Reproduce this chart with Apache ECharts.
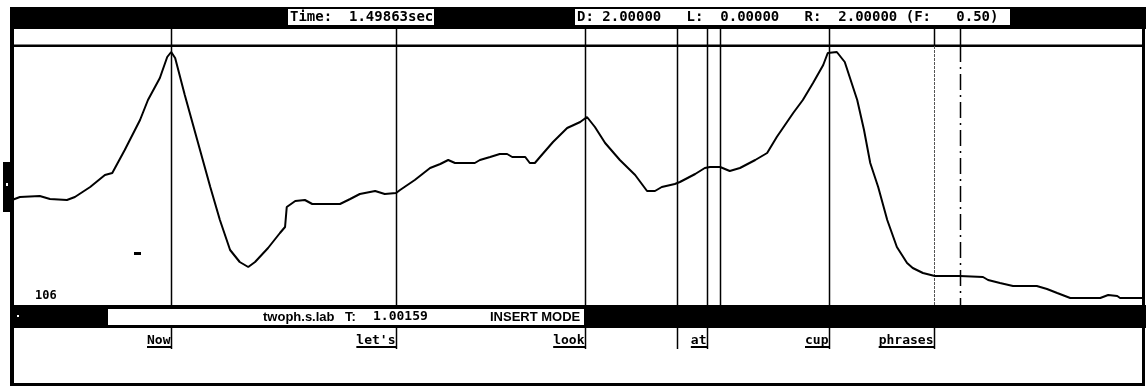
<!DOCTYPE html>
<html>
<head>
<meta charset="utf-8">
<script src="https://cdn.jsdelivr.net/npm/echarts@6/dist/echarts.min.js"></script>
<style>
  html, body { margin: 0; padding: 0; background: #fff; }
  #chart { width: 1148px; height: 388px; }
</style>
</head>
<body>
<div id="chart"></div>
<script>
// pitch track (sec, Hz)
const times = [
  0.000, 0.014, 0.049, 0.067, 0.097, 0.111, 0.138, 0.164, 0.177, 0.199,
  0.226, 0.240, 0.261, 0.274, 0.281, 0.288, 0.305, 0.327, 0.350, 0.367,
  0.385, 0.402, 0.417, 0.429, 0.452, 0.473, 0.482, 0.485, 0.500, 0.517,
  0.530, 0.579, 0.597, 0.614, 0.641, 0.658, 0.678, 0.685, 0.711, 0.738,
  0.756, 0.770, 0.782, 0.817, 0.826, 0.844, 0.861, 0.874, 0.883, 0.906,
  0.914, 0.923, 0.932, 0.955, 0.980, 1.003, 1.015, 1.029, 1.047, 1.073,
  1.100, 1.121, 1.135, 1.147, 1.170, 1.179, 1.206, 1.223, 1.232, 1.250,
  1.267, 1.285, 1.312, 1.333, 1.350, 1.379, 1.396, 1.414, 1.432, 1.440,
  1.456, 1.470, 1.492, 1.504, 1.515, 1.529, 1.545, 1.562, 1.580, 1.590,
  1.608, 1.629, 1.673, 1.714, 1.723, 1.744, 1.767, 1.809, 1.827, 1.845,
  1.868, 1.921, 1.935, 1.951, 1.956, 1.995
];
const pitch = [
  211, 214, 215, 212, 211, 214, 224, 236, 238, 261,
  291, 311, 333, 354, 359, 353, 316, 271, 224, 191,
  161, 149, 144, 149, 163, 178, 184, 204, 210, 211,
  207, 207, 212, 217, 220, 217, 218, 221, 231, 243,
  247, 251, 248, 248, 251, 254, 257, 257, 254, 254,
  248, 248, 254, 269, 283, 289, 294, 284, 268, 251,
  236, 220, 220, 224, 227, 229, 237, 243, 244, 244,
  240, 243, 251, 258, 274, 298, 311, 328, 346, 358,
  359, 349, 311, 281, 248, 224, 191, 164, 148, 143,
  138, 135, 135, 134, 131, 128, 125, 125, 122, 118,
  113, 113, 116, 115, 113, 113
];

// label boundaries (sec)
const boundaryTimes = [0.2807, 0.6778, 1.0115, 1.1739, 1.2268, 1.2498, 1.4422];
const phraseEndTime = 1.6275;
const cursorTime = 1.6734;
const wordTimes = [0.2807, 0.6778, 1.0115, 1.1739, 1.2268, 1.4422, 1.6275];
const wordLabels = ['Now', "let's", 'look', '', 'at', 'cup', 'phrases'];

const pitchMin = 106, pitchMax = 365;
const tMin = 0, tMax = 2;

const timeText = 'Time:  1.49863sec';
const rangeText = 'D: 2.00000   L:  0.00000   R:  2.00000 (F:   0.50)';
const labFile = 'twoph.s.lab', tLabel = 'T:', tValue = '1.00159', modeText = 'INSERT MODE';

const chart = echarts.init(document.getElementById('chart'));

const mono = '"DejaVu Sans Mono", "Liberation Mono", monospace';
const sans = '"Liberation Sans", Arial, sans-serif';

const gridBox = { left: 12, right: 3 };

function vline(styleFor) {
  return function (params, api) {
    const cs = params.coordSys;
    const x = Math.round(api.coord([api.value(0), 0])[0]) + 0.5;
    return {
      type: 'line',
      shape: { x1: x, y1: cs.y, x2: x, y2: cs.y + cs.height },
      style: styleFor(api.value(1))
    };
  };
}

const headerDividers = boundaryTimes.concat([phraseEndTime, cursorTime]).map(t => [t, 0]);
const plotBoundaries = boundaryTimes.map(t => [t, 0])
  .concat([[phraseEndTime, 1], [cursorTime, 2]]);

const plotStyles = [
  { stroke: '#000', lineWidth: 1.5 },
  { stroke: '#555', lineWidth: 1, lineDash: [3, 1] },
  { stroke: '#000', lineWidth: 1.5, lineDash: [16, 5, 2, 5] }
];

function hiddenX(i) {
  return { type: 'value', gridIndex: i, min: tMin, max: tMax, show: false };
}

const option = {
  animation: false,
  backgroundColor: '#fff',
  grid: [
    Object.assign({ top: 29, height: 16 }, gridBox),
    Object.assign({ top: 46, height: 259 }, gridBox),
    Object.assign({ top: 328, height: 21 }, gridBox)
  ],
  xAxis: [hiddenX(0), hiddenX(1), hiddenX(2)],
  yAxis: [
    { type: 'value', gridIndex: 0, min: 0, max: 1, show: false },
    {
      type: 'value', gridIndex: 1, min: pitchMin, max: pitchMax,
      axisLine: { show: false }, axisTick: { show: false }, splitLine: { show: false },
      axisLabel: {
        show: true, inside: true, margin: 23, showMinLabel: true, showMaxLabel: false,
        formatter: v => (v === pitchMin ? String(v) : ''),
        verticalAlign: 'bottom', padding: [0, 0, 3, 0],
        color: '#000', fontFamily: mono, fontWeight: 'bold', fontSize: 12
      }
    },
    { type: 'value', gridIndex: 2, min: 0, max: 1, show: false }
  ],
  series: [
    {
      type: 'custom', xAxisIndex: 0, yAxisIndex: 0,
      data: headerDividers,
      renderItem: vline(() => ({ stroke: '#000', lineWidth: 1.5 }))
    },
    {
      type: 'custom', xAxisIndex: 1, yAxisIndex: 1,
      data: plotBoundaries,
      renderItem: vline(k => plotStyles[k])
    },
    {
      type: 'line', xAxisIndex: 1, yAxisIndex: 1,
      data: times.map((t, i) => [t, pitch[i]]),
      showSymbol: false, symbol: 'none',
      lineStyle: { color: '#000', width: 2 },
      z: 3
    },
    {
      type: 'custom', xAxisIndex: 2, yAxisIndex: 2,
      data: wordTimes.map((t, i) => [t, i]),
      renderItem: function (params, api) {
        const cs = params.coordSys;
        const x = Math.round(api.coord([api.value(0), 0])[0]) + 0.5;
        const word = wordLabels[api.value(1)];
        const children = [{
          type: 'line',
          shape: { x1: x, y1: cs.y, x2: x, y2: cs.y + cs.height },
          style: { stroke: '#000', lineWidth: 1.5 }
        }];
        if (word) {
          const w = word.length * 7.83;
          children.push({
            type: 'text',
            style: {
              text: word, x: x - 1, y: cs.y + 13,
              align: 'right', verticalAlign: 'middle',
              font: 'bold 13px ' + mono, fill: '#000'
            }
          });
          children.push({
            type: 'rect',
            shape: { x: x - w - 1, y: cs.y + 18, width: w + 1, height: 2 },
            style: { fill: '#000' }
          });
        }
        return { type: 'group', children: children };
      }
    }
  ],
  graphic: [
    // top status bar
    { type: 'rect', shape: { x: 12, y: 7, width: 1134, height: 22 }, style: { fill: '#000' } },
    { type: 'rect', shape: { x: 288, y: 9, width: 146, height: 16 }, style: { fill: '#fff' } },
    { type: 'text', style: { text: timeText, x: 290, y: 17, verticalAlign: 'middle', font: 'bold 14px ' + mono, fill: '#000' } },
    { type: 'rect', shape: { x: 575, y: 9, width: 435, height: 16 }, style: { fill: '#fff' } },
    { type: 'text', style: { text: rangeText, x: 577, y: 17, verticalAlign: 'middle', font: 'bold 14px ' + mono, fill: '#000' } },
    // frame
    { type: 'rect', shape: { x: 10, y: 7, width: 4, height: 379 }, style: { fill: '#000' } },
    { type: 'rect', shape: { x: 1142, y: 7, width: 3, height: 379 }, style: { fill: '#000' } },
    { type: 'rect', shape: { x: 12, y: 44.5, width: 1132, height: 2.5 }, style: { fill: '#000' } },
    { type: 'rect', shape: { x: 10, y: 383, width: 1135, height: 3 }, style: { fill: '#000' } },
    { type: 'rect', shape: { x: 3, y: 162, width: 8, height: 50 }, style: { fill: '#000' } },
    { type: 'rect', shape: { x: 6, y: 183, width: 2, height: 3 }, style: { fill: '#fff' } },
    { type: 'rect', shape: { x: 134, y: 252, width: 7, height: 3 }, style: { fill: '#000' } },
    // label-file bar
    { type: 'rect', shape: { x: 12, y: 305, width: 1134, height: 23 }, style: { fill: '#000' } },
    { type: 'rect', shape: { x: 17, y: 315, width: 2, height: 2 }, style: { fill: '#fff' } },
    { type: 'rect', shape: { x: 108, y: 309, width: 476, height: 16 }, style: { fill: '#fff' } },
    { type: 'text', style: { text: labFile, x: 263, y: 317, verticalAlign: 'middle', font: 'bold 13px ' + sans, fill: '#000' } },
    { type: 'text', style: { text: tLabel, x: 345, y: 317, verticalAlign: 'middle', font: 'bold 13px ' + sans, fill: '#000' } },
    { type: 'text', style: { text: tValue, x: 373, y: 317, verticalAlign: 'middle', font: 'bold 13px ' + mono, fill: '#000' } },
    { type: 'text', style: { text: modeText, x: 490, y: 317, verticalAlign: 'middle', font: 'bold 13px ' + sans, fill: '#000' } }
  ]
};

chart.setOption(option);
</script>
</body>
</html>
